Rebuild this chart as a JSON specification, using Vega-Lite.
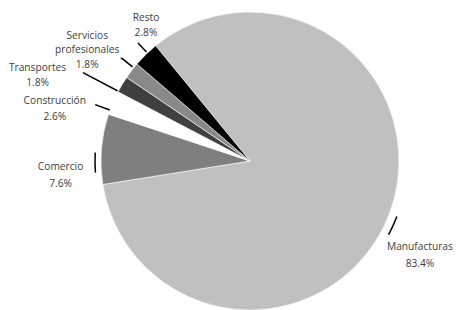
{
  "$schema": "https://vega.github.io/schema/vega-lite/v6.json",
  "width": 424,
  "height": 298,
  "autosize": "none",
  "padding": {"left": 38, "top": 12, "right": 0, "bottom": 0},
  "background": "#ffffff",
  "config": {"view": {"stroke": null}, "text": {"font": "Open Sans"}},
  "data": {
    "values": [
      {"sector": "Manufacturas", "value": 83.4, "rank": 1, "label": ["Manufacturas", "83.4%"]},
      {"sector": "Comercio", "value": 7.6, "rank": 2, "label": ["Comercio", "7.6%"]},
      {"sector": "Construcción", "value": 2.6, "rank": 3, "label": ["Construcción", "2.6%"]},
      {"sector": "Transportes", "value": 1.8, "rank": 4, "label": ["Transportes", "1.8%"]},
      {"sector": "Servicios profesionales", "value": 1.8, "rank": 5, "label": ["Servicios", "profesionales", "1.8%"]},
      {"sector": "Resto", "value": 2.8, "rank": 6, "label": ["Resto", "2.8%"]}
    ]
  },
  "encoding": {
    "theta": {"field": "value", "type": "quantitative", "stack": true, "scale": {"domain": [0, 100], "range": [-0.6859, 5.5973]}},
    "order": {"field": "rank", "type": "quantitative"}
  },
  "layer": [
    {
      "mark": {"type": "arc", "stroke": "#ffffff", "strokeWidth": 0.6},
      "encoding": {
        "color": {
          "field": "sector", "type": "nominal", "legend": null,
          "scale": {
            "domain": ["Manufacturas", "Comercio", "Construcción", "Transportes", "Servicios profesionales", "Resto"],
            "range": ["#c0c0c0", "#7f7f7f", "#ffffff", "#404040", "#898989", "#000000"]
          }
        }
      }
    },
    {
      "transform": [
        {"stack": "value", "groupby": [], "sort": [{"field": "rank", "order": "ascending"}], "as": ["t0", "t1"]},
        {"filter": "datum.sector === 'Resto'"}
      ],
      "mark": {"type": "arc", "filled": false, "fill": null, "stroke": "#000000", "strokeWidth": 1.5, "radius": 151, "radius2": 162, "thetaOffset": 0.1026, "theta2Offset": -0.0733},
      "encoding": {"theta": {"field": "t0", "type": "quantitative", "stack": null}, "theta2": {"field": "t1"}}
    },
    {
      "transform": [
        {"stack": "value", "groupby": [], "sort": [{"field": "rank", "order": "ascending"}], "as": ["t0", "t1"]},
        {"filter": "datum.sector === 'Servicios profesionales'"}
      ],
      "mark": {"type": "arc", "filled": false, "fill": null, "stroke": "#000000", "strokeWidth": 1.5, "radius": 151, "radius2": 164, "thetaOffset": 0.0796, "theta2Offset": -0.0335},
      "encoding": {"theta": {"field": "t0", "type": "quantitative", "stack": null}, "theta2": {"field": "t1"}}
    },
    {
      "transform": [
        {"stack": "value", "groupby": [], "sort": [{"field": "rank", "order": "ascending"}], "as": ["t0", "t1"]},
        {"filter": "datum.sector === 'Transportes'"}
      ],
      "mark": {"type": "arc", "filled": false, "fill": null, "stroke": "#000000", "strokeWidth": 1.5, "radius": 150, "radius2": 189, "thetaOffset": 0.0042, "theta2Offset": -0.1089},
      "encoding": {"theta": {"field": "t0", "type": "quantitative", "stack": null}, "theta2": {"field": "t1"}}
    },
    {
      "transform": [
        {"stack": "value", "groupby": [], "sort": [{"field": "rank", "order": "ascending"}], "as": ["t0", "t1"]},
        {"filter": "datum.sector === 'Construcción'"}
      ],
      "mark": {"type": "arc", "filled": false, "fill": null, "stroke": "#000000", "strokeWidth": 1.5, "radius": 150, "radius2": 164, "thetaOffset": 0.0297, "theta2Offset": -0.1337},
      "encoding": {"theta": {"field": "t0", "type": "quantitative", "stack": null}, "theta2": {"field": "t1"}}
    },
    {
      "transform": [
        {"stack": "value", "groupby": [], "sort": [{"field": "rank", "order": "ascending"}], "as": ["t0", "t1"]},
        {"filter": "datum.sector === 'Comercio'"}
      ],
      "mark": {"type": "arc", "filled": false, "fill": null, "stroke": "#000000", "strokeWidth": 1.5, "radius": 155, "radius2": 155, "thetaOffset": 0.0831, "theta2Offset": -0.2653},
      "encoding": {"theta": {"field": "t0", "type": "quantitative", "stack": null}, "theta2": {"field": "t1"}}
    },
    {
      "transform": [
        {"stack": "value", "groupby": [], "sort": [{"field": "rank", "order": "ascending"}], "as": ["t0", "t1"]},
        {"filter": "datum.sector === 'Manufacturas'"}
      ],
      "mark": {"type": "arc", "filled": false, "fill": null, "stroke": "#000000", "strokeWidth": 1.5, "radius": 157, "radius2": 157, "thetaOffset": 2.618, "theta2Offset": -2.4947},
      "encoding": {"theta": {"field": "t0", "type": "quantitative", "stack": null}, "theta2": {"field": "t1"}}
    },
    {
      "mark": {"type": "text", "radius": 171, "thetaOffset": 0.12, "dy": -7.5, "fontSize": 10.2, "fill": "#404040", "lineHeight": 15, "align": "center", "baseline": "middle"},
      "encoding": {"text": {"condition": {"test": "datum.sector === 'Resto'", "field": "label"}, "value": ""}}
    },
    {
      "mark": {"type": "text", "radius": 197, "thetaOffset": -0.054, "dy": -14.5, "fontSize": 10.2, "fill": "#404040", "lineHeight": 14.5, "align": "center", "baseline": "middle"},
      "encoding": {"text": {"condition": {"test": "datum.sector === 'Servicios profesionales'", "field": "label"}, "value": ""}}
    },
    {
      "mark": {"type": "text", "radius": 229, "thetaOffset": -0.157, "dy": -7.5, "fontSize": 10.2, "fill": "#404040", "lineHeight": 15, "align": "center", "baseline": "middle"},
      "encoding": {"text": {"condition": {"test": "datum.sector === 'Transportes'", "field": "label"}, "value": ""}}
    },
    {
      "mark": {"type": "text", "radius": 202, "thetaOffset": -0.141, "dy": -8, "fontSize": 10.2, "fill": "#404040", "lineHeight": 16, "align": "center", "baseline": "middle"},
      "encoding": {"text": {"condition": {"test": "datum.sector === 'Construcción'", "field": "label"}, "value": ""}}
    },
    {
      "mark": {"type": "text", "radius": 190, "thetaOffset": -0.157, "dy": -8, "fontSize": 10.2, "fill": "#404040", "lineHeight": 17, "align": "center", "baseline": "middle"},
      "encoding": {"text": {"condition": {"test": "datum.sector === 'Comercio'", "field": "label"}, "value": ""}}
    },
    {
      "mark": {"type": "text", "radius": 194, "thetaOffset": 0.14, "dy": -8, "fontSize": 10.2, "fill": "#404040", "lineHeight": 17, "align": "center", "baseline": "middle"},
      "encoding": {"text": {"condition": {"test": "datum.sector === 'Manufacturas'", "field": "label"}, "value": ""}}
    }
  ]
}
